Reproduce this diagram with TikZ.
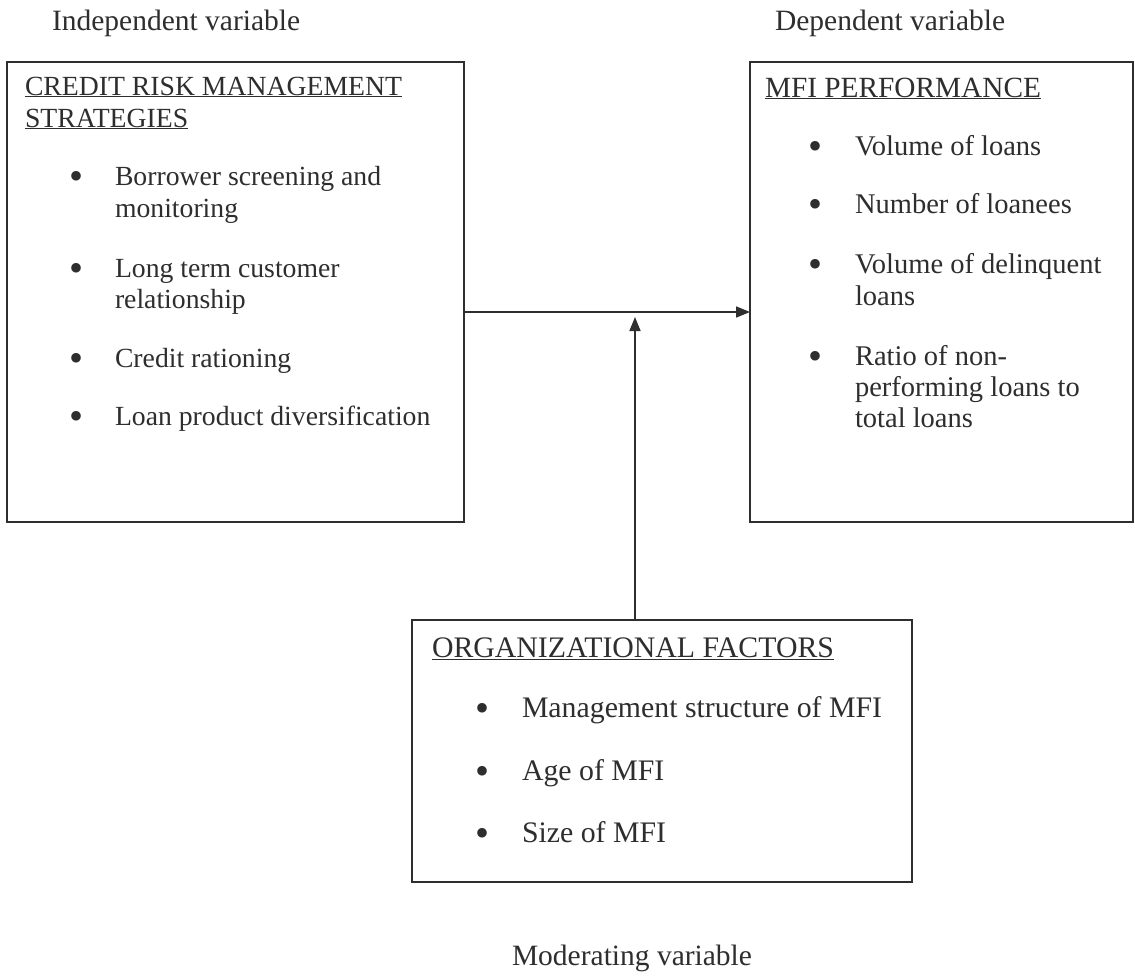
\documentclass[tikz,border=0pt]{standalone}
\usepackage{fontspec}
\setmainfont{Liberation Serif}
\usetikzlibrary{arrows.meta}
\definecolor{ink}{HTML}{2E2E2E}
\begin{document}
\begin{tikzpicture}[x=1pt,y=-1pt,
  every node/.style={inner sep=0pt,outer sep=0pt,text=ink},
  boxstyle/.style={draw=ink,line width=1.6pt,rectangle,anchor=north west},
  hdr/.style={anchor=base west,font=\fontsize{29.5}{34}\selectfont},
  ltxt/.style={anchor=base west,font=\fontsize{27.7}{32}\selectfont},
  rtxt/.style={anchor=base west,font=\fontsize{28.5}{32}\selectfont},
  rttl/.style={anchor=base west,font=\fontsize{29.3}{32}\selectfont},
  btxt/.style={anchor=base west,font=\fontsize{29.8}{32}\selectfont},
  bul/.style={anchor=base,font=\fontsize{40}{40}\selectfont,yshift=-4pt},
  conn/.style={draw=ink,line width=1.6pt},
  tip/.style={-{Triangle[length=14pt,width=11pt]}}]
\useasboundingbox (0,0) rectangle (1135,978);
\fill[white] (0,0) rectangle (1135,978);

% headers
\node[hdr] (hind) at (52,30) {Independent variable};
\node[hdr] (hdep) at (775,30) {Dependent variable};
\node[hdr] (hmod) at (512,965) {Moderating variable};

% boxes
\node[boxstyle,minimum width=457pt,minimum height=460pt] (crms) at (7,62) {};
\node[boxstyle,minimum width=383pt,minimum height=460pt] (perf) at (750,62) {};
\node[boxstyle,minimum width=500pt,minimum height=262pt] (org) at (412,620) {};

% left box text
\node[ltxt] (l0a) at (25,95) {\underline{CREDIT RISK MANAGEMENT}};
\node[ltxt] (l0b) at (25,127) {\underline{STRATEGIES}};
\node[bul] (lb1) at (77,185) {•};
\node[ltxt] (l1a) at (115,185) {Borrower screening and};
\node[ltxt] (l1b) at (115,217) {monitoring};
\node[bul] (lb2) at (77,277) {•};
\node[ltxt] (l2a) at (115,277) {Long term customer};
\node[ltxt] (l2b) at (115,308) {relationship};
\node[bul] (lb3) at (77,367) {•};
\node[ltxt] (l3a) at (115,367) {Credit rationing};
\node[bul] (lb4) at (77,425) {•};
\node[ltxt] (l4a) at (115,425) {Loan product diversification};

% right box text
\node[rttl] (r0) at (765,97) {\underline{MFI PERFORMANCE}};
\node[bul] (rb1) at (815,155) {•};
\node[rtxt] (r1) at (855,155) {Volume of loans};
\node[bul] (rb2) at (815,213) {•};
\node[rtxt] (r2) at (855,213) {Number of loanees};
\node[bul] (rb3) at (815,273) {•};
\node[rtxt] (r3a) at (855,273) {Volume of delinquent};
\node[rtxt] (r3b) at (855,305) {loans};
\node[bul] (rb4) at (815,365) {•};
\node[rtxt] (r4a) at (855,365) {Ratio of non-};
\node[rtxt] (r4b) at (855,396) {performing loans to};
\node[rtxt] (r4c) at (855,427) {total loans};

% bottom box text
\node[btxt] (b0) at (432,657) {\underline{ORGANIZATIONAL FACTORS}};
\node[bul] (bb1) at (482,717) {•};
\node[btxt] (b1) at (522,717) {Management structure of MFI};
\node[bul] (bb2) at (482,780) {•};
\node[btxt] (b2) at (522,780) {Age of MFI};
\node[bul] (bb3) at (482,842) {•};
\node[btxt] (b3) at (522,842) {Size of MFI};

% connectors
\coordinate (hy) at (635,312);
\coordinate (vtip) at (635,317);
\draw[conn,tip] (crms.east |- hy) -- (perf.west |- hy);
\draw[conn,tip] (org.north -| hy) -- (vtip);
\end{tikzpicture}
\end{document}
